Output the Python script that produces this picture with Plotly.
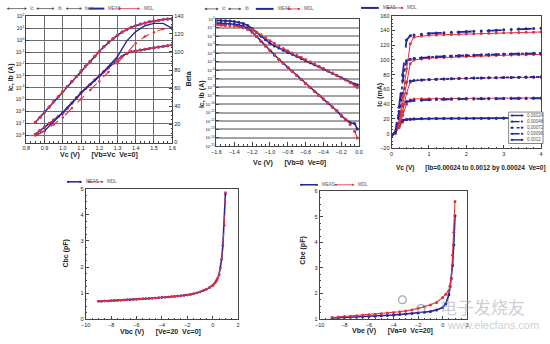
import plotly.graph_objects as go

W, H = 550, 344
def fx(p): return p / W
def fy(p): return 1 - p / H

BLUE = "#22279a"
RED = "#e2303e"
FONT = "Liberation Sans"

# ---------------- Panel 1 : Gummel (Vb=Vc) ----------------
vc1 = [0.85, 0.875, 0.9, 0.925, 0.95, 0.975, 1.0, 1.025, 1.05, 1.075, 1.1, 1.125, 1.15, 1.175,
       1.2, 1.225, 1.25, 1.275, 1.3, 1.325, 1.35, 1.375, 1.4, 1.425, 1.45, 1.475, 1.5, 1.525,
       1.55, 1.575, 1.6]
ic1_exp = [-6.9, -6.47, -6.04, -5.61, -5.18, -4.75, -4.32, -3.89, -3.46, -3.03, -2.6, -2.18, -1.77,
           -1.36, -0.95, -0.55, -0.2, 0.12, 0.42, 0.68, 0.9, 1.08, 1.22, 1.35, 1.45, 1.54, 1.62,
           1.68, 1.74, 1.78, 1.82]
ib1_exp = [-7.9, -7.6, -7.3, -7.0, -6.7, -6.42, -6.13, -5.7, -5.27, -4.83, -4.4, -4.05, -3.7, -3.35,
           -3.0, -2.66, -2.32, -1.97, -1.63, -1.35, -1.12, -0.98, -0.9, -0.83, -0.76, -0.7, -0.64,
           -0.58, -0.52, -0.46, -0.4]
vc1b = [0.85, 0.9, 0.95, 1.0, 1.05, 1.1, 1.15, 1.2, 1.25, 1.3, 1.35, 1.4, 1.45, 1.5, 1.55, 1.6]
beta_meas = [7.7, 13, 23, 33, 44, 55, 64, 73, 84, 95, 112, 122.5, 129, 131.6, 131.6, 126]
beta_mdl = [7.7, 12.5, 20, 27.7, 38, 47.8, 58, 67.8, 78, 87.9, 98.8, 109.7, 117, 121.8, 125.5, 128]

# ---------------- Panel 2 : reverse Gummel ----------------
vc2 = [-1.6, -1.55, -1.5, -1.45, -1.4, -1.35, -1.3, -1.25, -1.2, -1.15, -1.1, -1.05, -1.0, -0.95,
       -0.9, -0.85, -0.8, -0.75, -0.7, -0.65, -0.6, -0.55, -0.5, -0.45, -0.4, -0.35, -0.3, -0.25,
       -0.2, -0.15, -0.1, -0.05, -0.02]
a_meas_exp = [-0.15, -0.16, -0.18, -0.22, -0.28, -0.37, -0.52, -0.75, -1.1, -1.56, -2.02, -2.42,
              -2.83, -3.15, -3.4, -3.67, -3.92, -4.15, -4.38, -4.65, -4.9, -5.13, -5.36, -5.6,
              -5.86, -6.11, -6.37, -6.63, -6.9, -7.15, -7.44, -7.65, -7.72]
a_mdl_exp = [-0.62, -0.63, -0.65, -0.68, -0.72, -0.78, -0.87, -1.0, -1.2, -1.5, -1.85, -2.2, -2.55,
             -2.87, -3.17, -3.45, -3.72, -3.98, -4.24, -4.5, -4.76, -5.02, -5.28, -5.54, -5.8,
             -6.07, -6.34, -6.62, -6.9, -7.18, -7.5, -7.85, -8.05]
b_meas_exp = [-0.45, -0.47, -0.5, -0.54, -0.6, -0.7, -0.85, -1.1, -1.5, -2.05, -2.6, -3.15, -3.7,
              -4.22, -4.72, -5.2, -5.68, -6.15, -6.62, -7.1, -7.57, -8.04, -8.5, -8.96, -9.42,
              -9.88, -10.34, -10.8, -11.4, -11.85, -12.2, -12.3, -12.95]
b_mdl_exp = [-0.7, -0.72, -0.74, -0.77, -0.82, -0.9, -1.02, -1.22, -1.55, -2.05, -2.6, -3.15, -3.7,
             -4.22, -4.72, -5.2, -5.68, -6.15, -6.62, -7.1, -7.57, -8.04, -8.5, -8.96, -9.42,
             -9.88, -10.34, -10.8, -11.3, -11.8, -12.4, -13.2, -14.0]

# ---------------- Panel 3 : output characteristics ----------------
vc3 = [0, 0.1, 0.2, 0.3, 0.4, 0.5, 0.6, 0.8, 1.0, 1.2, 1.4, 1.6, 1.8, 2.0, 2.2, 2.4, 2.6, 2.8,
       3.0, 3.2, 3.4, 3.6, 3.8, 4.0]
ib_labels = ["0.00024", "0.00048", "0.00072", "0.00096", "0.0012"]
ic3_meas = [
    [-2, 2, 12, 18.5, 19, 19.5, 20, 20.2, 20.4, 20.5, 20.6, 20.7, 20.8, 20.9, 21, 21, 21.1, 21.1,
     21.2, 21.2, 21.3, 21.3, 21.4, 21.4],
    [-2, 2, 20, 38, 43.5, 44.5, 45, 45.5, 46, 46.3, 46.6, 46.8, 47, 47.1, 47.2, 47.3, 47.4, 47.5,
     47.6, 47.7, 47.8, 47.9, 48, 48.1],
    [-2, 2, 25, 55, 70, 71.5, 72, 73, 73.5, 74, 74.3, 74.6, 75, 75.2, 75.4, 75.6, 75.8, 76, 76.2,
     76.4, 76.6, 76.8, 77, 77.2],
    [-2, 2, 30, 72, 99, 101, 102, 103, 104, 104.5, 105, 105.5, 106, 106.3, 106.6, 107, 107.3,
     107.6, 108, 108.2, 108.5, 108.7, 109, 109.2],
    [-2, 2, 36, 80, 127, 133, 134, 135, 136, 136.5, 137, 137.5, 138, 138.5, 139, 139.5, 140,
     140.5, 141, 141.5, 142, 142.3, 142.6, 143],
]
ic3_mdl = [
    [-1, 1, 8, 16, 19.5, 20, 20.3, 20.5, 20.6, 20.7, 20.8, 20.8, 20.9, 20.9, 21, 21, 21, 21.1,
     21.1, 21.1, 21.2, 21.2, 21.2, 21.3],
    [-1, 1, 10, 25, 40, 46, 47, 47.3, 47.5, 47.6, 47.7, 47.8, 47.9, 48, 48, 48.1, 48.1, 48.2,
     48.2, 48.3, 48.3, 48.4, 48.4, 48.5],
    [-1, 1, 10, 30, 55, 70, 72, 73, 73.5, 74, 74.3, 74.6, 75, 75.2, 75.4, 75.6, 75.8, 76, 76.1,
     76.2, 76.3, 76.4, 76.5, 76.6],
    [-1, 1, 12, 40, 70, 95, 100, 101.5, 102.5, 103, 103.5, 104, 104.4, 104.8, 105.2, 105.5,
     105.8, 106.1, 106.4, 106.7, 107, 107.2, 107.4, 107.6],
    [-1, 1, 15, 50, 88, 122, 131, 132.5, 133.5, 134, 134.3, 134.6, 135, 135.3, 135.6, 136, 136.2,
     136.5, 136.8, 137, 137.2, 137.5, 137.8, 138],
]
dash3 = ["solid", "dash", "dot", "dashdot", "longdash"]

# ---------------- Panel 4 : Cbc ----------------
vbc = [-9, -8.75, -8.5, -8.25, -8, -7.75, -7.5, -7.25, -7, -6.75, -6.5, -6.25, -6, -5.75, -5.5,
       -5.25, -5, -4.75, -4.5, -4.25, -4, -3.75, -3.5, -3.25, -3, -2.75, -2.5, -2.25, -2, -1.75,
       -1.5, -1.25, -1, -0.75, -0.5, -0.25, 0, 0.1, 0.2, 0.3, 0.4, 0.5, 0.6, 0.7, 0.8, 0.9, 1.0]
cbc_meas = [0.69, 0.695, 0.70, 0.707, 0.714, 0.72, 0.727, 0.734, 0.741, 0.748, 0.755, 0.762, 0.77,
            0.777, 0.785, 0.793, 0.80, 0.808, 0.817, 0.826, 0.835, 0.845, 0.855, 0.865, 0.875,
            0.89, 0.905, 0.92, 0.935, 0.955, 0.98, 1.01, 1.05, 1.095, 1.15, 1.22, 1.3, 1.35,
            1.41, 1.49, 1.58, 1.72, 1.98, 2.3, 2.83, 3.6, 4.8]
cbc_mdl = [0.69, 0.695, 0.70, 0.707, 0.714, 0.72, 0.727, 0.734, 0.741, 0.748, 0.755, 0.762, 0.77,
           0.777, 0.785, 0.793, 0.80, 0.808, 0.817, 0.826, 0.835, 0.845, 0.855, 0.865, 0.875,
           0.89, 0.905, 0.92, 0.935, 0.955, 0.98, 1.01, 1.05, 1.095, 1.15, 1.22, 1.3, 1.35,
           1.41, 1.49, 1.58, 1.72, 1.97, 2.3, 2.85, 3.6, 4.85]

# ---------------- Panel 5 : Cbe ----------------
vbe = [-9, -8.5, -8, -7.5, -7, -6.5, -6, -5.5, -5, -4.5, -4, -3.5, -3, -2.5, -2, -1.5, -1, -0.5,
       0, 0.25, 0.5, 0.6, 0.7, 0.8, 0.9, 1.0]
cbe_meas = [1.04, 1.05, 1.06, 1.07, 1.08, 1.09, 1.1, 1.115, 1.13, 1.145, 1.16, 1.18, 1.2, 1.22,
            1.24, 1.27, 1.3, 1.36, 1.45, 1.6, 1.95, 2.28, 2.6, 3.1, 3.9, 5.05]
cbe_mdl = [1.06, 1.08, 1.1, 1.115, 1.13, 1.15, 1.17, 1.19, 1.21, 1.235, 1.26, 1.29, 1.32, 1.36,
           1.42, 1.48, 1.55, 1.65, 1.85, 1.97, 2.12, 2.3, 2.6, 3.5, 4.4, 5.6]

fig = go.Figure()

def meas(x, y, xa, ya, dash="solid", size=3, width=1.6, markers=True):
    fig.add_trace(go.Scatter(x=x, y=y, xaxis=xa, yaxis=ya, mode="lines+markers" if markers else "lines",
                             line=dict(color=BLUE, width=width, dash=dash),
                             marker=dict(color=BLUE, size=size), showlegend=False, hoverinfo="skip"))

def mdl(x, y, xa, ya, dash="dash", size=3, width=1.1):
    fig.add_trace(go.Scatter(x=x, y=y, xaxis=xa, yaxis=ya, mode="lines+markers",
                             line=dict(color=RED, width=width, dash=dash),
                             marker=dict(color=RED, size=size), showlegend=False, hoverinfo="skip"))

exp10 = lambda arr: [10 ** e for e in arr]

# panel 1
meas(vc1, exp10(ic1_exp), "x", "y")
mdl(vc1, exp10(ic1_exp), "x", "y")
meas(vc1, exp10(ib1_exp), "x", "y")
mdl(vc1, exp10(ib1_exp), "x", "y")
meas(vc1b, beta_meas, "x", "y2", markers=False, width=1.4)
mdl(vc1b, beta_mdl, "x", "y2", size=2.5)

# panel 2
meas(vc2, exp10(a_meas_exp), "x3", "y3")
mdl(vc2, exp10(a_mdl_exp), "x3", "y3")
meas(vc2, exp10(b_meas_exp), "x3", "y3")
mdl(vc2, exp10(b_mdl_exp), "x3", "y3")

# panel 3
for i in range(5):
    mdl(vc3, ic3_mdl[i], "x4", "y4", dash="solid", width=1)
    meas(vc3, ic3_meas[i], "x4", "y4", dash=dash3[i], width=1.8)

# panel 4
meas(vbc, cbc_meas, "x5", "y5", size=2.5)
mdl(vbc, cbc_mdl, "x5", "y5", size=2.5)

# panel 5
meas(vbe, cbe_meas, "x6", "y6", size=3)
mdl(vbe, cbe_mdl, "x6", "y6", size=3, dash="solid")

tickfont = dict(family=FONT, size=5.5, color="#222")
base = dict(showline=True, linecolor="#444", linewidth=1, mirror=True, ticks="inside",
            ticklen=3, tickwidth=0.8, tickcolor="#444", tickfont=tickfont, zeroline=False,
            showgrid=False)

def sup(e):
    return "10<sup>%d</sup>" % e

p1_dec = list(range(2, -9, -1))
p2_dec = list(range(0, -16, -1))

fig.update_layout(
    width=W, height=H, margin=dict(l=0, r=0, t=0, b=0),
    paper_bgcolor="white", plot_bgcolor="white", showlegend=False,
    xaxis=dict(base, domain=[fx(21.7), fx(170)], range=[0.8, 1.6], dtick=0.1, tick0=0.8,
               tickformat=".1f",
               showgrid=True, gridcolor="#6e6e6e", gridwidth=1, anchor="y",
               minor=dict(ticks="inside", ticklen=1.5, dtick=0.025, tickcolor="#444")),
    yaxis=dict(base, domain=[fy(142), fy(13)], type="log", range=[-8.6, 2.05],
               tickvals=[10 ** e for e in p1_dec], ticktext=[sup(e) for e in p1_dec],
               showgrid=True, gridcolor="#6e6e6e", gridwidth=1, anchor="x", mirror=False,
               tickfont=dict(family=FONT, size=5, color="#222")),
    yaxis2=dict(base, overlaying="y", side="right", range=[0, 140], dtick=20, anchor="x",
                mirror=False, minor=dict(ticks="inside", ticklen=1.5, dtick=5, tickcolor="#444")),
    xaxis3=dict(base, domain=[fx(215), fx(360)], range=[-1.6, 0], dtick=0.2, tick0=-1.6,
                anchor="y3", ticklen=4,
                minor=dict(ticks="inside", ticklen=2, dtick=0.05, tickcolor="#444"),
                tickformat=".1f"),
    yaxis3=dict(base, domain=[fy(146), fy(16)], type="log", range=[-15, 0.05],
                tickvals=[10 ** e for e in p2_dec], ticktext=[sup(e) for e in p2_dec],
                showgrid=True, gridcolor="#a3a3a3", gridwidth=2, anchor="x3",
                tickfont=dict(family=FONT, size=4.3, color="#222")),
    xaxis4=dict(base, domain=[fx(393), fx(545)], range=[0, 4], dtick=1, anchor="y4",
                minor=dict(ticks="inside", ticklen=1.5, dtick=0.2, tickcolor="#444")),
    yaxis4=dict(base, domain=[fy(148), fy(13)], range=[-20, 160], dtick=20, anchor="x4",
                minor=dict(ticks="inside", ticklen=1.5, dtick=5, tickcolor="#444")),
    xaxis5=dict(base, domain=[fx(82), fx(237)], range=[-10, 2], dtick=2, anchor="y5",
                minor=dict(ticks="inside", ticklen=1.5, dtick=0.5, tickcolor="#444")),
    yaxis5=dict(base, domain=[fy(322), fy(189)], range=[0, 5], dtick=1, anchor="x5",
                minor=dict(ticks="inside", ticklen=1.5, dtick=0.25, tickcolor="#444")),
    xaxis6=dict(base, domain=[fx(320), fx(470)], range=[-10, 2], dtick=2, anchor="y6",
                minor=dict(ticks="inside", ticklen=1.5, dtick=0.5, tickcolor="#444")),
    yaxis6=dict(base, domain=[fy(321.7), fy(191.7)], range=[1, 6], dtick=1, anchor="x6",
                minor=dict(ticks="inside", ticklen=1.5, dtick=0.25, tickcolor="#444")),
)

shapes = []
annotations = []

def text(x, y, t, size=7, bold=True, angle=0, anchor="center", color="#222", family=FONT):
    annotations.append(dict(x=fx(x), y=fy(y), xref="paper", yref="paper", text=t,
                            showarrow=False, textangle=angle, xanchor=anchor, yanchor="middle",
                            font=dict(family=family, size=size, color=color,
                                      weight="bold" if bold else "normal")))

def leg(x0, x1, y, color, width, label, tx, marker=True, dash="solid"):
    shapes.append(dict(type="line", xref="paper", yref="paper", x0=fx(x0), x1=fx(x1),
                       y0=fy(y), y1=fy(y), line=dict(color=color, width=width, dash=dash)))
    if marker:
        for m in (x0 + 1.5, x1 - 1.5):
            shapes.append(dict(type="circle", xref="paper", yref="paper",
                               x0=fx(m - 1.1), x1=fx(m + 1.1), y0=fy(y + 1.1), y1=fy(y - 1.1),
                               fillcolor=color, line=dict(width=0)))
    text(tx, y, label, size=4.5, bold=False, anchor="left", color="#555")

GRAY = "#555555"
# panel 1 legend
leg(2, 22, 5.7, GRAY, 0.8, "Ic", 23.5)
leg(32, 50, 5.7, GRAY, 0.8, "Ib", 51.5)
leg(62, 78, 5.7, GRAY, 0.8, "beta", 79.5)
leg(85, 101, 5.7, BLUE, 2, "MEAS", 103, marker=False)
leg(115, 137, 5.7, RED, 0.8, "MDL", 139)
# panel 2 legend
leg(203, 217, 6, GRAY, 0.8, "Ic", 218.5)
leg(227, 240, 6, GRAY, 0.8, "Ib", 241.5)
leg(255, 273, 6, BLUE, 2, "MEAS", 275, marker=False)
leg(287, 300, 6, RED, 0.8, "MDL", 302)
# panel 3 legend
leg(362, 380, 5, BLUE, 2, "MEAS", 382, marker=False)
leg(388, 405, 5, RED, 0.8, "MDL", 407)
# panel 4 legend
leg(63, 78, 182, BLUE, 1.5, "MEAS", 80)
leg(84, 100, 182, RED, 0.8, "MDL", 102)
# panel 5 legend
leg(300, 318, 185, BLUE, 1.5, "MEAS", 320)
leg(335, 355, 185, RED, 0.8, "MDL", 357)

# panel 3 inner legend box
shapes.append(dict(type="rect", xref="paper", yref="paper", x0=fx(512), x1=fx(547),
                   y0=fy(143), y1=fy(111), fillcolor="white", line=dict(color="#666", width=0.8)))
for i, lab in enumerate(ib_labels):
    yy = 114.5 + i * 6.2
    leg(514, 527, yy, BLUE, 1.4, lab, 529, dash=dash3[i])

# axis titles
text(5.5, 75, "Ic, Ib (A)", angle=-90)
text(187, 77, "Beta", angle=-90)
text(96, 155, "Vc (V)      [Vb=Vc  Ve=0]")
text(201, 93, "Ic, Ib (A)", angle=-90)
text(289, 162.5, "Vc (V)      [Vb=0  Ve=0]")
text(381.5, 93, "Ic (mA)", angle=-90)
text(474, 167.5, "Vc (V)      [Ib=0.00024 to 0.0012 by 0.00024  Ve=0]", size=6.5)
text(62, 255, "Cbc (pF)", angle=-90)
text(158, 334.5, "Vbc (V)      [Ve=20  Vc=0]")
text(303, 252, "Cbe (pF)", angle=-90)
text(394, 333.5, "Vbe (V)      [Va=0  Vc=20]")

# watermark
text(485, 309, "电子发烧友", size=17, bold=False, color="rgba(160,160,175,0.55)",
     family="Noto Sans CJK SC")
text(496, 328, "www.elecfans.com", size=11, bold=False, color="rgba(160,160,175,0.55)")
for cx, cy, r in [(404, 302, 4), (423, 311, 4)]:
    shapes.append(dict(type="circle", xref="paper", yref="paper", x0=fx(cx - r), x1=fx(cx + r),
                       y0=fy(cy + r), y1=fy(cy - r), line=dict(color="rgba(120,130,160,0.7)", width=1.2)))

fig.update_layout(shapes=shapes, annotations=annotations)
fig.write_html("out.html")
